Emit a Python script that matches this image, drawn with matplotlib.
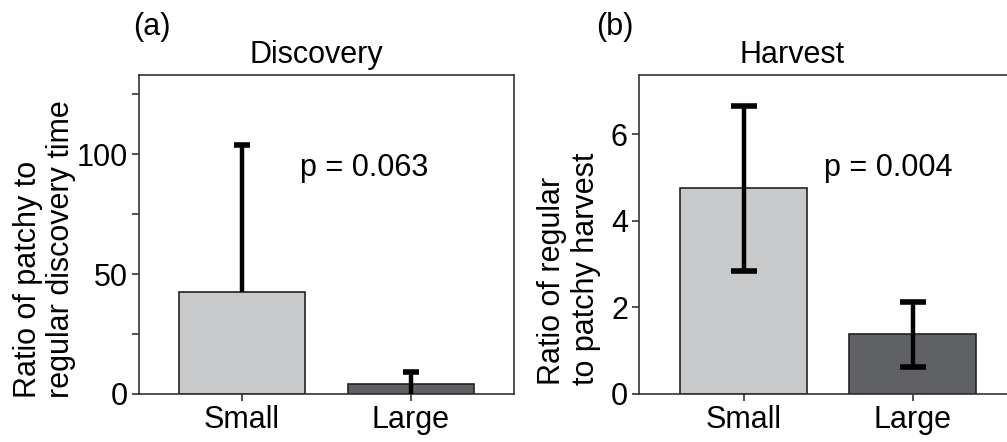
import matplotlib
matplotlib.use("Agg")
import matplotlib.pyplot as plt
from matplotlib.ticker import MultipleLocator

plt.rcParams["font.family"] = ["Liberation Sans", "DejaVu Sans"]

# data
groups = ["Small", "Large"]
disc_mean = [42.4, 4.2]
disc_low = [42.4, -5.0]      # large-group whisker runs below 0 and is clipped
disc_high = [104.0, 9.0]
disc_low_cap = [False, False]
harv_mean = [4.76, 1.38]
harv_low = [2.85, 0.63]
harv_high = [6.65, 2.12]
harv_low_cap = [True, True]
p_values = ["p = 0.063", "p = 0.004"]

bar_colors = ["#c8c9cb", "#606165"]
FS = 22

fig = plt.figure(figsize=(10.07, 4.42), dpi=100)
ax_a = fig.add_axes([0.138, 0.1086, 0.3724, 0.7217])
ax_b = fig.add_axes([0.6346, 0.1086, 0.3724, 0.7217])


def draw_panel(ax, means, low, high, low_cap, capwidth):
    x = list(range(len(groups)))
    ax.bar(x, means, width=0.75, color=bar_colors, edgecolor="#222222",
           linewidth=1.2, zorder=2)
    # whiskers, caps drawn as "_" markers so a cap can be left off
    ax.vlines(x, low, high, color="black", linewidth=3.2, zorder=3)
    ax.plot(x, high, ls="none", marker="_", color="black",
            markersize=capwidth, markeredgewidth=4, zorder=3)
    lx = [xi for xi, c in zip(x, low_cap) if c]
    ly = [yi for yi, c in zip(low, low_cap) if c]
    if lx:
        ax.plot(lx, ly, ls="none", marker="_", color="black",
                markersize=capwidth, markeredgewidth=4, zorder=3)
    ax.set_xticks(x)
    ax.set_xticklabels(groups, fontsize=FS)
    ax.set_xlim(-0.61, 1.61)
    for s in ax.spines.values():
        s.set_linewidth(1.2)
        s.set_color("#333333")
    ax.tick_params(axis="both", which="both", direction="out", length=5,
                   width=1.2, color="#333333", labelsize=FS, pad=3)


# (a) discovery
draw_panel(ax_a, disc_mean, disc_low, disc_high, disc_low_cap, capwidth=12)
ax_a.set_ylim(0, 133)
ax_a.set_yticks([0, 50, 100])
ax_a.yaxis.set_minor_locator(MultipleLocator(25))
ax_a.set_title("Discovery", fontsize=FS, x=0.472, pad=9)
ax_a.text(0.429, 0.708, p_values[0], transform=ax_a.transAxes,
          fontsize=FS, va="center", ha="left")

# (b) harvest
draw_panel(ax_b, harv_mean, harv_low, harv_high, harv_low_cap, capwidth=19)
ax_b.set_ylim(0, 7.37)
ax_b.set_yticks([0, 2, 4, 6])
ax_b.set_xlim(-0.62, 1.6)
ax_b.set_title("Harvest", fontsize=FS, x=0.408, pad=9)
ax_b.text(0.492, 0.708, p_values[1], transform=ax_b.transAxes,
          fontsize=FS, va="center", ha="left")

# y labels, both lines start at the bottom
fig.text(0.044, 0.0995, "Ratio of patchy to\nregular discovery time",
         rotation=90, ha="center", va="bottom", multialignment="left",
         fontsize=FS, linespacing=1.15)
fig.text(0.565, 0.129, "Ratio of regular\nto patchy harvest",
         rotation=90, ha="center", va="bottom", multialignment="left",
         fontsize=FS, linespacing=1.15)

# panel letters
fig.text(0.132, 0.94, "(a)", fontsize=FS, va="center", ha="left")
fig.text(0.592, 0.94, "(b)", fontsize=FS, va="center", ha="left")

fig.savefig("out.png", dpi=100)
